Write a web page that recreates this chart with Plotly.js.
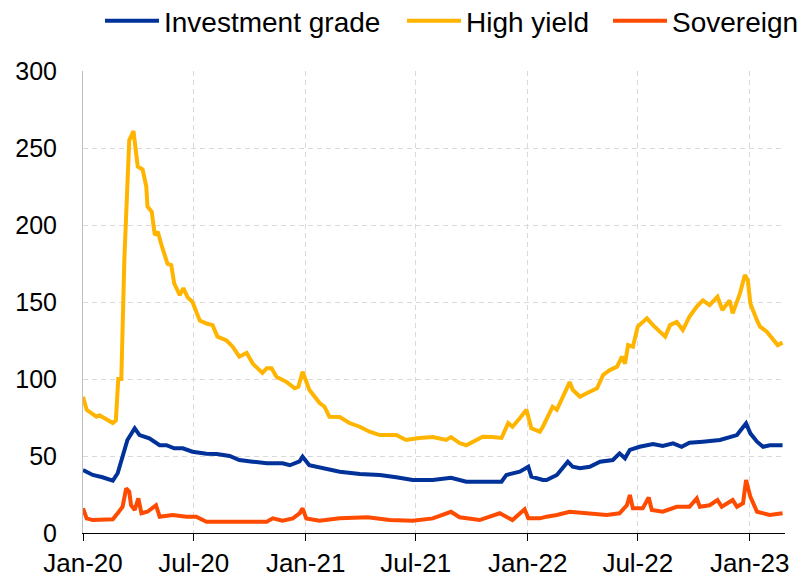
<!DOCTYPE html>
<html>
<head>
<meta charset="utf-8">
<script src="https://cdn.plot.ly/plotly-3.0.1.min.js"></script>
<style>html,body{margin:0;padding:0;background:#fff;}#chart{width:805px;height:577px;}</style>
</head>
<body>
<div id="chart"></div>
<script>
// Investment grade
const igDates = ["2020-01-01","2020-01-17","2020-02-02","2020-02-19","2020-02-27","2020-03-06","2020-03-14","2020-03-26","2020-04-03","2020-04-19","2020-05-06","2020-05-17","2020-05-30","2020-06-13","2020-06-29","2020-07-22","2020-08-08","2020-08-29","2020-09-14","2020-10-06","2020-10-29","2020-11-24","2020-12-06","2020-12-22","2020-12-27","2021-01-07","2021-01-29","2021-02-26","2021-03-31","2021-05-03","2021-05-30","2021-06-26","2021-07-29","2021-08-28","2021-09-22","2021-10-25","2021-11-19","2021-11-27","2021-12-19","2022-01-02","2022-01-07","2022-01-26","2022-02-01","2022-02-18","2022-03-08","2022-03-16","2022-03-28","2022-04-13","2022-04-30","2022-05-21","2022-06-01","2022-06-10","2022-06-18","2022-07-04","2022-07-26","2022-08-11","2022-08-28","2022-09-11","2022-09-24","2022-10-16","2022-11-13","2022-12-11","2022-12-26","2023-01-02","2023-01-13","2023-01-23","2023-02-03","2023-02-24"];
const igValues = [40.9,37.7,36.2,34,38.8,49.5,60.4,68,63.6,61.5,57,57,55,55,52.8,51.5,51.3,50,47.4,46.3,45.3,45.3,44,46.5,49.5,44,42,39.8,38.3,37.7,36.2,34.4,34.4,35.9,33.3,33.3,33.3,37.7,39.8,43,36.6,34.4,34.4,37.7,46.3,43,42,43,46.3,47.4,51.7,48.5,54,56,57.8,56.5,58.2,56,58.6,59.3,60.4,63.6,71.2,64.7,59.3,56,57,57];

// High yield
const hyDates = ["2020-01-01","2020-01-07","2020-01-23","2020-01-28","2020-02-19","2020-02-24","2020-02-28","2020-03-04","2020-03-09","2020-03-17","2020-03-24","2020-03-27","2020-03-31","2020-04-08","2020-04-14","2020-04-16","2020-04-23","2020-04-28","2020-05-03","2020-05-09","2020-05-14","2020-05-19","2020-05-25","2020-05-30","2020-06-08","2020-06-14","2020-06-21","2020-06-29","2020-07-06","2020-07-11","2020-07-22","2020-08-01","2020-08-09","2020-08-24","2020-09-03","2020-09-14","2020-09-26","2020-10-06","2020-10-22","2020-10-29","2020-11-06","2020-11-14","2020-12-01","2020-12-14","2020-12-20","2020-12-27","2021-01-07","2021-01-24","2021-02-01","2021-02-09","2021-02-26","2021-03-14","2021-03-31","2021-04-16","2021-05-03","2021-05-30","2021-06-15","2021-07-07","2021-07-29","2021-08-20","2021-08-28","2021-09-11","2021-09-22","2021-10-09","2021-10-19","2021-11-04","2021-11-19","2021-11-30","2021-12-07","2021-12-19","2021-12-30","2022-01-07","2022-01-21","2022-01-26","2022-02-03","2022-02-11","2022-02-18","2022-02-28","2022-03-11","2022-03-16","2022-03-28","2022-04-08","2022-04-25","2022-05-05","2022-05-16","2022-05-28","2022-06-05","2022-06-10","2022-06-15","2022-06-23","2022-07-01","2022-07-16","2022-07-26","2022-08-15","2022-08-23","2022-09-03","2022-09-13","2022-09-24","2022-10-06","2022-10-16","2022-10-27","2022-11-09","2022-11-17","2022-11-29","2022-12-04","2022-12-16","2022-12-24","2022-12-29","2023-01-02","2023-01-13","2023-01-18","2023-01-29","2023-02-08","2023-02-16","2023-02-24"];
const hyValues = [88.5,80,75.5,76.5,71.4,73,100,100,178,255,261,250,238,236,225,212,208.6,193.5,195.6,187,180.5,174.7,174,162,154.5,159,153,150,142.8,138,136,135,127.5,125,121,114.5,117,110,104,107,107,101.5,98,94,95,104.7,93,84.4,82,75.5,75.3,71.4,69,65.8,63.6,63.6,60.4,61.7,62.3,60.4,62.3,58.4,57,60.4,62.5,62.3,61.7,71.4,69,74.5,80,68,65.8,69,75.5,82,80,88.5,98,93,88.5,90.7,94,102.6,105.8,108,114.5,110,122,121,134,139.4,135,127.5,135,137,131.8,140.5,147,151,148,153.4,144.8,151,142.6,155.6,167.5,164,149,138,134,130.7,125.3,122,123.6];

// Sovereign
const svDates = ["2020-01-01","2020-01-07","2020-01-17","2020-02-02","2020-02-19","2020-02-27","2020-03-06","2020-03-12","2020-03-17","2020-03-20","2020-03-26","2020-04-01","2020-04-06","2020-04-16","2020-04-30","2020-05-06","2020-05-27","2020-06-19","2020-07-05","2020-07-22","2020-09-03","2020-10-29","2020-11-08","2020-11-24","2020-12-11","2020-12-22","2020-12-27","2021-01-02","2021-01-24","2021-02-26","2021-04-13","2021-05-19","2021-06-26","2021-07-29","2021-08-28","2021-09-11","2021-10-14","2021-11-16","2021-12-07","2021-12-27","2022-01-02","2022-01-21","2022-02-01","2022-02-18","2022-03-11","2022-04-08","2022-05-11","2022-06-01","2022-06-13","2022-06-18","2022-06-23","2022-07-09","2022-07-19","2022-07-24","2022-08-11","2022-09-03","2022-09-24","2022-10-06","2022-10-11","2022-10-27","2022-11-09","2022-11-16","2022-12-04","2022-12-11","2022-12-21","2022-12-26","2023-01-02","2023-01-13","2023-02-03","2023-02-24"];
const svValues = [16,9.5,8.4,8.4,8.9,12.8,17,29,26.8,18,15,22.5,12.8,13.8,18,10.6,11.7,10.6,10.6,7.3,7.3,7.3,9.5,8,9.5,12.8,16,9.5,8,9.5,10.2,8.4,8,9.5,13.8,10.2,8.4,12.8,8.4,15.4,9.5,9.5,10.6,11.7,13.8,12.8,11.7,12.8,18,24.7,16,16,23,15,13.8,17,17,22.5,17,18,21.4,17,21.4,17,19.3,34.4,23.6,13.8,11.7,12.8];

const seriesNames = ["Investment grade","High yield","Sovereign"];
const seriesColors = ["#003299","#FFB400","#FF4B00"];
const xTickVals = ["2020-01-01","2020-07-01","2021-01-01","2021-07-01","2022-01-01","2022-07-01","2023-01-01"];
const xTickText = ["Jan-20","Jul-20","Jan-21","Jul-21","Jan-22","Jul-22","Jan-23"];
const yTickVals = [0,50,100,150,200,250,300];

const FONT = "Arial, 'Liberation Sans', sans-serif";
const xRange = ["2020-01-01","2023-02-28"];
const legendIds = ["legend","legend2","legend3"];
const legendX = [100/805, 402/805, 608/805];

const mk = (d, v, i) => ({
  x: d, y: v, type: "scatter", mode: "lines", name: seriesNames[i],
  legend: legendIds[i],
  line: {color: seriesColors[i], width: 4}
});

const traces = [mk(igDates, igValues, 0), mk(hyDates, hyValues, 1), mk(svDates, svValues, 2)];

const legendStyle = (i) => ({
  orientation: "h", xref: "container", yref: "container",
  x: legendX[i], y: 1 - 21/577, xanchor: "left", yanchor: "middle",
  font: {size: 28, family: FONT, color: "#000"},
  itemwidth: 54, bgcolor: "rgba(0,0,0,0)", borderwidth: 0
});

const layout = {
  width: 805, height: 577,
  margin: {l: 83, r: 20, t: 71, b: 44},
  paper_bgcolor: "#fff", plot_bgcolor: "#fff",
  font: {family: FONT, color: "#000"},
  showlegend: true,
  legend: legendStyle(0),
  legend2: legendStyle(1),
  legend3: legendStyle(2),
  xaxis: {
    type: "date", range: xRange,
    tickvals: xTickVals, ticktext: xTickText,
    ticks: "outside", ticklen: 7, tickcolor: "#000", tickwidth: 1,
    showline: true, linecolor: "#000", linewidth: 1,
    showgrid: true, gridcolor: "#d9d9d9", griddash: "5px,4px", gridwidth: 1,
    tickfont: {size: 26, family: FONT, color: "#000"},
    zeroline: false, fixedrange: true
  },
  xaxis2: {
    type: "date", range: xRange, overlaying: "x",
    tickvals: xTickVals, ticks: "inside", ticklen: 9, tickcolor: "#000", tickwidth: 1,
    showticklabels: false, showgrid: false, showline: false, zeroline: false
  },
  yaxis: {
    range: [0, 300], tickvals: yTickVals,
    ticks: "outside", ticklen: 20, tickcolor: "rgba(0,0,0,0)",
    showline: true, linecolor: "#bfbfbf", linewidth: 1,
    showgrid: true, gridcolor: "#d9d9d9", griddash: "5px,4px", gridwidth: 1,
    tickfont: {size: 25, family: FONT, color: "#000"},
    zeroline: false, fixedrange: true
  }
};

Plotly.newPlot("chart", traces, layout, {displayModeBar: false, staticPlot: true});
</script>
</body>
</html>
